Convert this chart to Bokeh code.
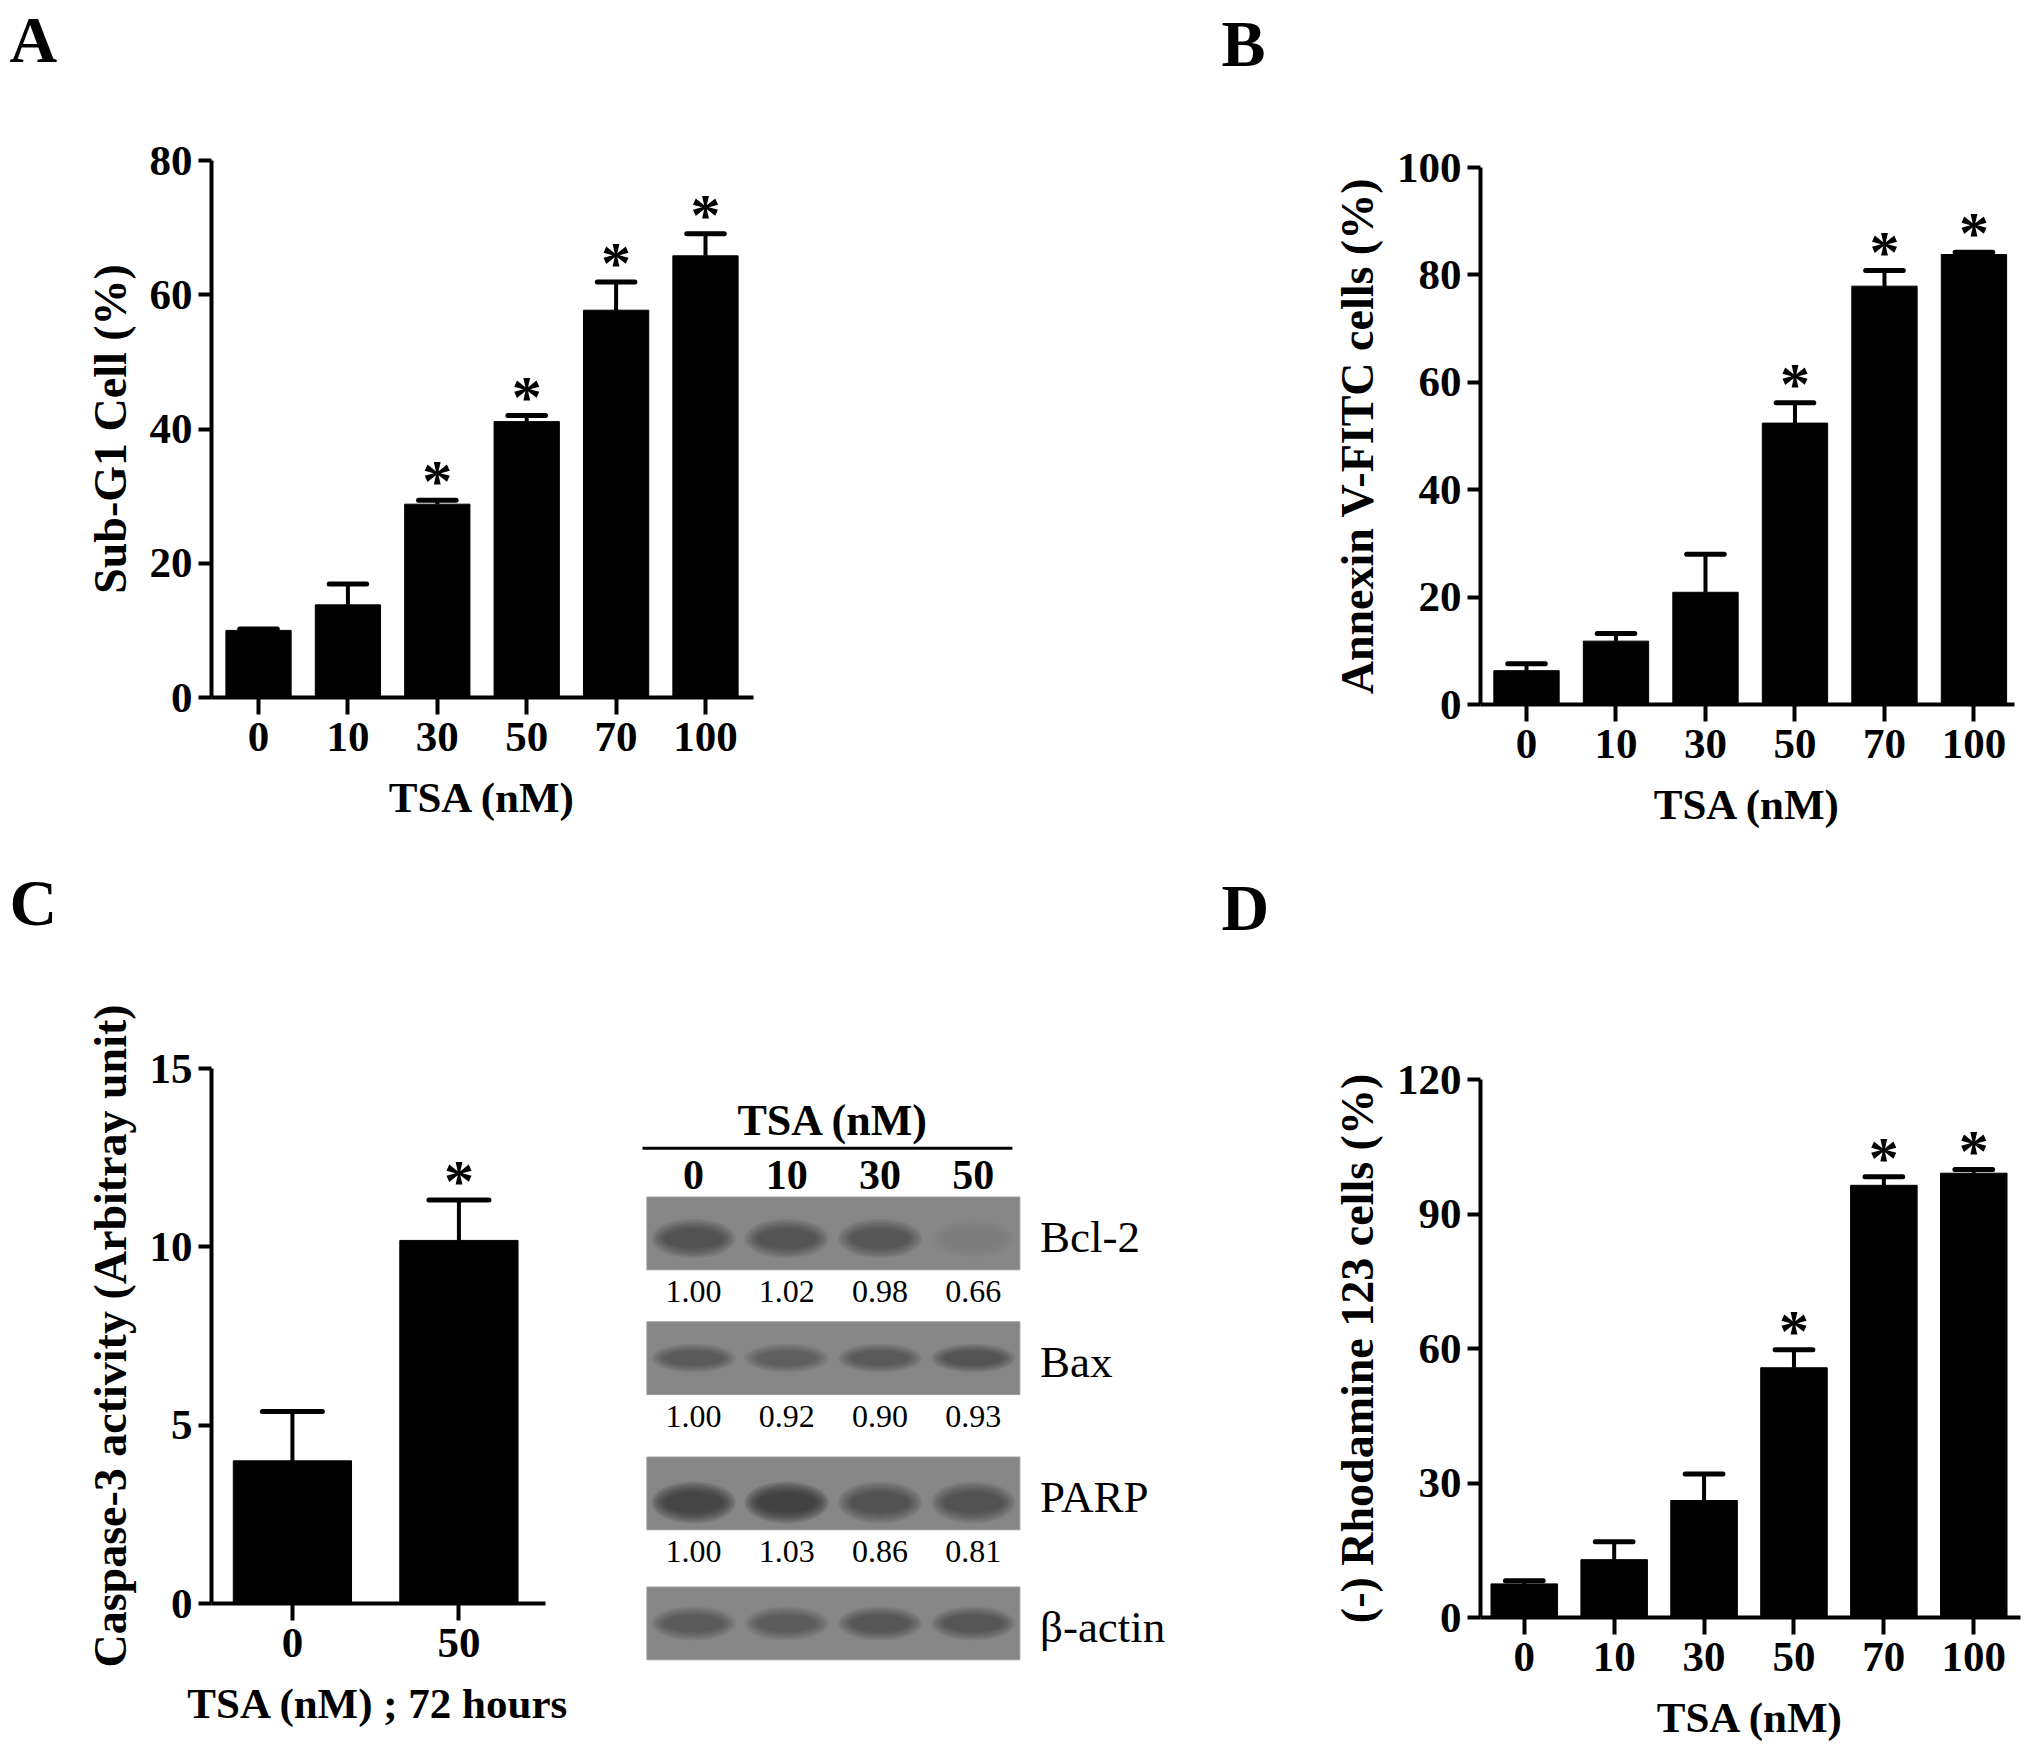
import numpy as np
from bokeh.plotting import figure
from bokeh.layouts import row, column
from bokeh.models import Range1d, FixedTicker, Title
from bokeh.core.properties import value
from bokeh.embed import file_html
from bokeh.resources import INLINE

FONT = "Liberation Serif"
LETTER_PX = 66

# ---- data ----
tsa_doses = ["0", "10", "30", "50", "70", "100"]

subg1_mean = [10.0, 13.8, 28.8, 41.1, 57.7, 65.8]
subg1_err = [0.2, 3.1, 0.6, 0.9, 4.2, 3.3]
subg1_sig = [False, False, True, True, True, True]

annexin_mean = [6.3, 11.8, 20.9, 52.4, 77.9, 83.8]
annexin_err = [1.3, 1.4, 7.1, 3.8, 2.9, 0.4]
annexin_sig = [False, False, False, True, True, True]

rhodamine_mean = [7.5, 12.9, 26.1, 55.7, 96.4, 99.1]
rhodamine_err = [0.7, 4.0, 5.9, 4.0, 1.9, 0.8]
rhodamine_sig = [False, False, False, True, True, True]

casp_doses = ["0", "50"]
casp_mean = [4.0, 10.18]
casp_err = [1.38, 1.13]
casp_sig = [False, True]

blot_lanes = ["0", "10", "30", "50"]
blot_proteins = ["Bcl-2", "Bax", "PARP", "β-actin"]
blot_ratios = [["1.00", "1.02", "0.98", "0.66"],
               ["1.00", "0.92", "0.90", "0.93"],
               ["1.00", "1.03", "0.86", "0.81"],
               None]
# how dark each band looks (0 = absent)
band_dark = [[0.60, 0.62, 0.55, 0.04],
             [0.50, 0.45, 0.50, 0.62],
             [0.90, 0.95, 0.60, 0.60],
             [0.50, 0.48, 0.55, 0.55]]

TOP_H = 860      # height of the upper row
BOTTOM_H = 885   # height of the lower row


def bar_panel(labels, mean, err, sig, yticks, ylabel, xlabel, letter,
              canvas, frame, xr, bar_w, cap_w, letter_pos):
    cx0, cy0, cx1, cy1 = canvas
    fl, ft, fr, fb = frame
    ymax = yticks[-1]
    p = figure(width=cx1 - cx0, height=cy1 - cy0,
               x_range=Range1d(*xr), y_range=Range1d(0, ymax),
               min_border_left=fl - cx0, min_border_right=cx1 - fr,
               min_border_top=ft - cy0, min_border_bottom=cy1 - fb,
               frame_align=False,
               output_backend="svg", toolbar_location=None)
    p.grid.visible = False
    p.outline_line_color = None

    idx = np.arange(len(mean))
    mean = np.array(mean)
    tops = mean + np.array(err)
    p.vbar(x=idx, top=mean, width=bar_w, bottom=0, fill_color="black", line_color="black")
    p.segment(x0=idx, y0=mean, x1=idx, y1=tops, line_width=4, line_color="black")
    p.segment(x0=idx - cap_w / 2, y0=tops, x1=idx + cap_w / 2, y1=tops,
              line_width=5, line_color="black", line_cap="round")
    s_idx = [i for i in idx if sig[i]]
    p.text(x=s_idx, y=[tops[i] for i in s_idx], text=["*"] * len(s_idx),
           text_font=value(FONT), text_font_size=value("60px"), text_font_style="bold",
           text_align="center", text_baseline="alphabetic", y_offset=-19, text_color="black")

    p.xaxis.ticker = FixedTicker(ticks=list(range(len(labels))))
    p.xaxis.major_label_overrides = {i: lab for i, lab in enumerate(labels)}
    p.yaxis.ticker = FixedTicker(ticks=yticks)
    p.axis.axis_line_width = 4
    p.axis.major_tick_line_width = 4
    p.axis.major_tick_in = 0
    p.yaxis.major_tick_out = 13
    p.xaxis.major_tick_out = 17
    p.axis.minor_tick_line_color = None
    p.axis.major_label_text_font = FONT
    p.axis.major_label_text_font_style = "bold"
    p.axis.major_label_text_font_size = "43px"
    p.axis.major_label_text_color = "black"
    p.yaxis.major_label_standoff = 6
    p.xaxis.major_label_standoff = 8
    p.axis.axis_label_text_font = FONT
    p.axis.axis_label_text_font_style = "bold"
    p.axis.axis_label_text_color = "black"
    p.yaxis.axis_label = ylabel
    p.xaxis.axis_label = xlabel
    p.yaxis.axis_label_text_font_size = "46px"
    p.xaxis.axis_label_text_font_size = "43px"
    p.yaxis.axis_label_standoff = 11
    p.xaxis.axis_label_standoff = 20

    # panel letter: an empty spacer title next to the frame, the letter above it
    lx, ly = letter_pos
    letter_bottom = ly + 0.216 * LETTER_PX
    spacer = ft - letter_bottom
    p.add_layout(Title(text=" ", text_font=FONT, text_font_size=f"{spacer / 1.107:.1f}px",
                       standoff=0), "above")
    p.add_layout(Title(text=letter, align="left", offset=lx - fl, text_font=FONT,
                       text_font_size=f"{LETTER_PX}px", text_font_style="bold",
                       text_color="black", standoff=0), "above")
    return p


y1 = TOP_H
y2 = TOP_H + BOTTOM_H
pA = bar_panel(tsa_doses, subg1_mean, subg1_err, subg1_sig, [0, 20, 40, 60, 80],
               "Sub-G1 Cell (%)", "TSA (nM)", "A",
               (0, 0, 1015, y1), (211, 159, 753, 697), (-0.526, 5.537),
               0.73, 0.42, (9, 62))
pB = bar_panel(tsa_doses, annexin_mean, annexin_err, annexin_sig, [0, 20, 40, 60, 80, 100],
               "Annexin V-FITC cells (%)", "TSA (nM)", "B",
               (1015, 0, 2023, y1), (1480, 167, 2014, 704), (-0.514, 5.453),
               0.73, 0.42, (1221, 67))
pC = bar_panel(casp_doses, casp_mean, casp_err, casp_sig, [0, 5, 10, 15],
               "Caspase-3 activity (Arbitray unit)", "TSA (nM) ; 72 hours", "C",
               (0, y1, 600, y2), (211, 1068, 545, 1603), (-0.486, 1.52),
               0.71, 0.36, (9, 926))
pD = bar_panel(tsa_doses, rhodamine_mean, rhodamine_err, rhodamine_sig, [0, 30, 60, 90, 120],
               "(-) Rhodamine 123 cells (%)", "TSA (nM)", "D",
               (1200, y1, 2023, y2), (1480, 1079, 2020, 1617), (-0.487, 5.52),
               0.74, 0.42, (1221, 930))

# ---- western blot panel (lane units across, row units down) ----
# lane 0 sits at x=693 px, 93.25 px per lane; row 0 at y=1235.5 px, 130 px per row
pW = figure(width=600, height=BOTTOM_H,
            x_range=Range1d((600 - 693) / 93.25, (1200 - 693) / 93.25),
            y_range=Range1d((y2 - 1235.5) / 130, (y1 - 1235.5) / 130),
            min_border=0, x_axis_type=None, y_axis_type=None, frame_align=False,
            output_backend="svg", toolbar_location=None)
pW.grid.visible = False
pW.outline_line_color = None

n_lanes = len(blot_lanes)
lane_x = np.arange(n_lanes)
mid = (n_lanes - 1) / 2
pW.text(x=[mid], y=[-0.89], text=["TSA (nM)"], text_font=value(FONT),
        text_font_size=value("44px"), text_font_style="bold", text_align="center",
        text_baseline="middle", text_color="black")
pW.segment(x0=[-0.547], y0=[-0.675], x1=[3.42], y1=[-0.675], line_width=3, line_color="black")
pW.text(x=lane_x, y=[-0.47] * n_lanes, text=blot_lanes, text_font=value(FONT),
        text_font_size=value("42px"), text_font_style="bold", text_align="center",
        text_baseline="middle", text_color="black")

row_dy = [-0.02, -0.06, -0.02, -0.02]
band_dy = [0.04, 0.0, 0.07, 0.0]
band_h = [0.30, 0.22, 0.32, 0.26]
for r, prot in enumerate(blot_proteins):
    ry = r + row_dy[r]
    pW.rect(x=[mid], y=[ry], width=n_lanes, height=0.56, fill_color="#868686",
            line_color="#9c9c9c", line_width=1)
    for scale in [1.0, 0.9, 0.8, 0.7, 0.6, 0.5]:
        pW.ellipse(x=lane_x, y=[ry + band_dy[r]] * n_lanes, width=0.9 * (0.4 + 0.6 * scale),
                   height=band_h[r] * scale, fill_color="#222222",
                   fill_alpha=[d * 0.17 for d in band_dark[r]], line_color=None)
    pW.text(x=[3.716], y=[ry + 0.03], text=[prot], text_font=value(FONT),
            text_font_size=value("45px"), text_align="left", text_baseline="middle",
            text_color="black")
    if blot_ratios[r] is not None:
        pW.text(x=lane_x, y=[ry + 0.45] * n_lanes, text=blot_ratios[r], text_font=value(FONT),
                text_font_size=value("32px"), text_align="center", text_baseline="middle",
                text_color="black")

layout = column(row(pA, pB), row(pC, pW, pD))

open("out.html", "w").write(file_html(layout, INLINE))
